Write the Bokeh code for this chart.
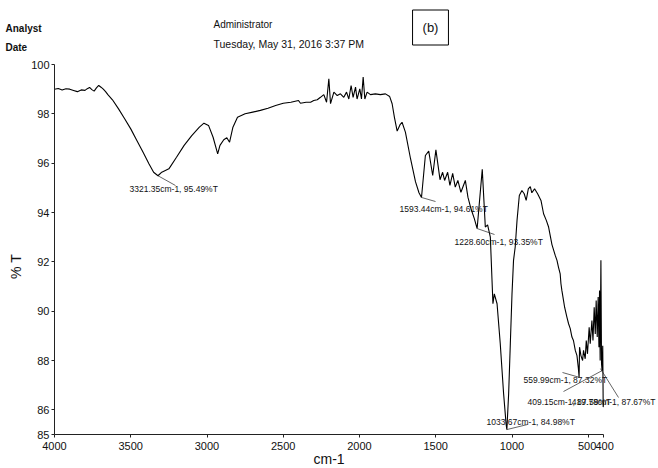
import math
from bokeh.plotting import figure
from bokeh.models import Range1d, FixedTicker, Label, Arrow, LinearAxis
from bokeh.embed import file_html
from bokeh.resources import INLINE

# ---------------- data ----------------
wavenumber = [
    4000, 3975, 3950, 3925, 3900, 3875, 3850, 3825, 3800, 3785, 3770, 3755, 3740, 3725,
    3710, 3695, 3680, 3665, 3650, 3620, 3580, 3540, 3500, 3460, 3420, 3380, 3350, 3321.35,
    3300, 3280, 3250, 3200, 3150, 3100, 3050, 3020, 2990, 2960, 2930, 2915, 2890, 2870,
    2852, 2830, 2800, 2750, 2700, 2650, 2600, 2550, 2500, 2450, 2400, 2387, 2350, 2321,
    2300, 2277, 2256, 2234, 2216, 2201, 2190, 2168, 2146, 2125, 2103, 2085, 2070, 2055,
    2042, 2026, 2016, 1998, 1987, 1976, 1965, 1950, 1928, 1896, 1863, 1830, 1802, 1786,
    1771, 1753, 1735, 1721, 1699, 1666, 1633, 1610, 1593.44, 1568, 1546, 1520, 1499, 1472,
    1455, 1442, 1422, 1407, 1389, 1372, 1355, 1335, 1306, 1289, 1269, 1247, 1228.60, 1195,
    1175, 1160, 1142, 1131, 1125, 1116, 1098, 1077, 1055, 1039, 1033.67, 1022, 1011, 1000,
    990, 979, 967, 952, 935, 920, 907, 893, 880, 870, 852, 832, 810, 793,
    775, 760, 738, 716, 705, 695, 684, 679, 673, 662, 655, 640, 629, 618,
    607, 597, 585, 574, 565, 559.99, 557, 548, 537, 531, 520, 513, 505, 494,
    487, 476, 469, 461, 454, 448, 441, 435, 430, 426, 422, 417, 413, 409.15,
    405, 402, 400,
]
transmittance = [
    99.00, 99.03, 98.97, 99.02, 99.00, 98.95, 98.90, 98.97, 98.95, 99.02, 99.07, 98.98, 98.92, 99.05,
    99.15, 99.08, 99.00, 98.90, 98.78, 98.57, 98.20, 97.80, 97.39, 96.92, 96.45, 95.97, 95.63, 95.49,
    95.62, 95.68, 95.77, 96.24, 96.72, 97.12, 97.46, 97.62, 97.53, 97.05, 96.38, 96.72, 96.95, 97.03,
    96.85, 97.46, 97.86, 98.00, 98.07, 98.14, 98.23, 98.34, 98.43, 98.47, 98.54, 98.43, 98.47, 98.47,
    98.54, 98.57, 98.67, 98.78, 98.47, 99.42, 98.41, 98.88, 98.74, 98.81, 98.67, 98.88, 98.60, 99.15,
    98.67, 99.08, 98.60, 99.01, 98.60, 99.49, 98.60, 98.88, 98.78, 98.81, 98.78, 98.81, 98.70, 98.41,
    97.86, 97.30, 97.55, 97.66, 97.26, 96.20, 95.25, 94.80, 94.61, 96.31, 96.49, 95.50, 96.54, 95.33,
    95.63, 95.30, 95.63, 95.10, 95.59, 95.03, 95.30, 94.82, 95.30, 94.62, 94.15, 93.75, 93.35, 95.75,
    93.41, 93.50, 93.00, 91.24, 90.30, 90.70, 90.30, 88.68, 86.65, 85.44, 85.20, 86.65, 88.68, 90.70,
    92.06, 92.60, 93.68, 94.69, 94.89, 94.76, 94.49, 94.96, 95.05, 94.80, 94.96, 94.76, 94.49, 93.95,
    93.68, 93.41, 92.70, 92.25, 92.06, 91.78, 91.51, 91.11, 90.84, 90.43, 90.16, 89.76, 89.49, 89.29,
    88.95, 88.81, 88.41, 88.20, 87.70, 87.32, 88.54, 88.20, 88.00, 88.41, 88.07, 88.81, 88.27, 89.35,
    88.68, 89.62, 88.81, 90.16, 89.08, 90.43, 88.95, 90.57, 88.54, 90.84, 88.00, 92.06, 87.87, 87.59,
    88.60, 86.11, 86.30,
]

x_ticks = [4000, 3500, 3000, 2500, 2000, 1500, 1000, 500, 400]
y_ticks = [85, 86, 88, 90, 92, 94, 96, 98, 100]

peak_wn = [3321.35, 1593.44, 1228.60, 1033.67, 559.99, 409.15, 419.78]
peak_t = [95.49, 94.61, 93.35, 85.20, 87.32, 87.59, 87.67]
peak_text = [
    "3321.35cm-1, 95.49%T",
    "1593.44cm-1, 94.61%T",
    "1228.60cm-1, 93.35%T",
    "1033.67cm-1, 84.98%T",
    "559.99cm-1, 87.32%T",
    "409.15cm-1, 87.59%T",
    "419.78cm-1, 87.67%T",
]

# ---------------- layout (page pixel positions) ----------------
W, H = 658, 468
AX_L, AX_R = 54, 603      # page x of 4000 and 400 cm-1
AX_T, AX_B = 64, 434      # page y of 100 and 85 %T


def X(px):
    """page x pixel -> wavenumber"""
    return 4000 - (px - AX_L) * 3600 / (AX_R - AX_L)


def Y(py):
    """page y pixel -> %T"""
    return 100 - (py - AX_T) * 15 / (AX_B - AX_T)


# label text anchor (x, middle y, alignment) and leader end, page pixels
label_pos = [(129, 188, "left"), (399, 208, "left"), (454, 241, "left"), (486, 421, "left"),
             (523, 379, "left"), (527, 401, "left"), (655, 401, "right")]
leader_end = [(175, 185), (435, 201), (494, 234), (527, 424), (562, 372), (563, 391), (618, 397)]

FONT = "Liberation Sans"

# the frame fills the whole canvas; the axes sit at fixed locations inside it
p = figure(width=W, height=H, title=None,
           x_range=Range1d(X(0), X(W)), y_range=Range1d(Y(H), Y(0)),
           x_axis_location=None, y_axis_location=None,
           output_backend="svg", toolbar_location=None, min_border=0)

p.line(wavenumber, transmittance, line_color="black", line_width=1.1)

p.outline_line_color = None
p.xgrid.visible = False
p.ygrid.visible = False
p.background_fill_color = "white"
p.border_fill_color = "white"

xaxis = LinearAxis(fixed_location=85, bounds=(400, 4000), ticker=FixedTicker(ticks=x_ticks))
yaxis = LinearAxis(fixed_location=4000, bounds=(85, 100), ticker=FixedTicker(ticks=y_ticks))
for ax in (xaxis, yaxis):
    ax.axis_line_color = "#222222"
    ax.axis_line_width = 1
    ax.major_tick_in = 0
    ax.major_tick_out = 3
    ax.major_tick_line_color = "#222222"
    ax.minor_tick_line_color = None
    ax.major_label_text_font = FONT
    ax.major_label_text_font_size = "11px"
    ax.major_label_text_color = "#111111"
    ax.major_label_standoff = 2
xaxis.major_label_overrides = {500: "500\u2009", 400: "\u2009400"}
p.add_layout(xaxis, "below")
p.add_layout(yaxis, "left")


def add_text(txt, px, py, size, style="normal", align="left", baseline="middle", angle=0.0, **kw):
    p.add_layout(Label(x=X(px), y=Y(py), text=txt, angle=angle,
                       text_font=FONT, text_font_size=size,
                       text_font_style=style, text_color="#111111",
                       text_align=align, text_baseline=baseline, **kw))


# axis titles
add_text("% T", 15, 266, "14px", align="center", angle=math.pi / 2)
add_text("cm-1", 313, 458, "14px")

# header texts
add_text("Analyst", 5, 28, "10px", style="bold")
add_text("Date", 5, 47, "10px", style="bold")
add_text("Administrator", 213, 24, "10px")
add_text("Tuesday, May 31, 2016 3:37 PM", 213, 43, "10.5px")
add_text("(b)", 430, 27, "13px", align="center",
         border_line_color="black", border_line_width=1,
         background_fill_color="white", padding=10)

# peak annotations
for wn, t, txt, (lx, ly, al), (ex, ey) in zip(peak_wn, peak_t, peak_text, label_pos, leader_end):
    p.add_layout(Arrow(x_start=wn, y_start=t, x_end=X(ex), y_end=Y(ey), end=None,
                       line_color="#222222", line_width=0.7))
    add_text(txt, lx, ly, "8.5px", align=al)

open("out.html", "w").write(file_html(p, INLINE))
